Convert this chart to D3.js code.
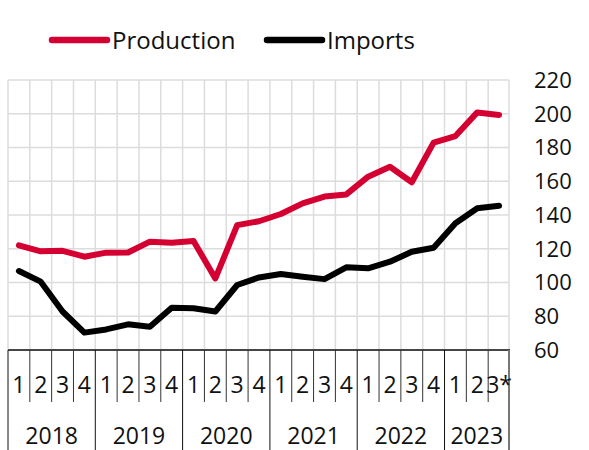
<!DOCTYPE html>
<html>
<head>
<meta charset="utf-8">
<script src="https://cdn.jsdelivr.net/npm/d3@7"></script>
<style>
  body { margin: 0; background: #fff; }
  text { font-family: "Open Sans", "Noto Sans", sans-serif; fill: #111; }
</style>
</head>
<body>
<div id="canvas"></div>
<script>
const years = ["2018", "2019", "2020", "2021", "2022", "2023"];
const quarterLabels = ["1","2","3","4","1","2","3","4","1","2","3","4","1","2","3","4","1","2","3","4","1","2","3*"];
const production = [122, 118.5, 118.8, 115.3, 117.7, 117.8, 124.2, 123.6, 124.6, 102.4, 134, 136.3,
                    140.6, 146.9, 150.9, 152.2, 162.7, 168.6, 159.4, 182.9, 186.8, 200.8, 199.3];
const imports = [106.8, 100.5, 82.8, 70.3, 72.2, 75.2, 73.8, 85.1, 84.7, 82.8, 98.5, 103,
                 105, 103.4, 102, 109, 108.4, 112.3, 118.2, 120.6, 135.1, 144, 145.5];
const yTicks = [60, 80, 100, 120, 140, 160, 180, 200, 220];

const w = 589, h = 450;
const margin = { top: 80, bottom: 100, left: 8, right: 80 };
const pLeft = margin.left, pRight = w - margin.right, pTop = margin.top, pBottom = h - margin.bottom;

const svg = d3.select("#canvas").append("svg")
  .attr("width", w).attr("height", h);

const idx = d3.range(quarterLabels.length);
const x = d3.scaleBand().domain(idx).range([pLeft, pRight + 1]).paddingInner(0).paddingOuter(0);
const y = d3.scaleLinear().domain([60, 220]).range([pBottom, pTop]);
const cx = i => x(i) + x.bandwidth() / 2;
const edge = i => i < idx.length ? x(i) : pRight;

// gridlines
const grid = svg.append("g").attr("stroke", "#dcdcdc").attr("stroke-width", 1.5);
grid.selectAll(".hg").data(yTicks).enter().append("line")
  .attr("x1", pLeft).attr("x2", pRight).attr("y1", d => y(d)).attr("y2", d => y(d));
grid.selectAll(".vg").data(d3.range(quarterLabels.length + 1)).enter().append("line")
  .attr("x1", edge).attr("x2", edge)
  .attr("y1", pTop).attr("y2", pBottom);

// right y axis labels
const yAxis = d3.axisRight(y).tickValues(yTicks).tickSize(0).tickPadding(0);
const ya = svg.append("g").attr("transform", "translate(534,0)").call(yAxis);
ya.select(".domain").remove();
ya.selectAll("text").attr("font-size", 22).attr("font-family", "'Open Sans', sans-serif")
  .attr("fill", "#111").attr("dy", "0.34em");

// category axis
const cat = svg.append("g");
cat.append("line").attr("x1", pLeft).attr("x2", pRight + 1).attr("y1", pBottom).attr("y2", pBottom)
  .attr("stroke", "#111").attr("stroke-width", 1.5);
cat.selectAll(".qt").data(idx.filter(i => i % 4 !== 0)).enter().append("line")
  .attr("x1", i => x(i)).attr("x2", i => x(i))
  .attr("y1", pBottom).attr("y2", pBottom + 52)
  .attr("stroke", "#333").attr("stroke-width", 1);
cat.selectAll(".yt").data(d3.range(0, 24, 4).concat([23])).enter().append("line")
  .attr("x1", edge).attr("x2", edge)
  .attr("y1", pBottom).attr("y2", h)
  .attr("stroke", i => i === 23 ? "#777" : "#111").attr("stroke-width", i => i === 23 ? 2 : 1);
cat.selectAll(".ql").data(quarterLabels).enter().append("text")
  .attr("x", (d, i) => cx(i)).attr("y", pBottom + 43)
  .attr("text-anchor", "middle").attr("font-size", 23)
  .text(d => d);
cat.selectAll(".yl").data(years).enter().append("text")
  .attr("x", (d, i) => (x(i * 4) + edge(i * 4 + 4)) / 2)
  .attr("y", h - 6)
  .attr("text-anchor", "middle").attr("font-size", 23)
  .text(d => d);

// lines
const line = d3.line().x((d, i) => cx(i)).y(d => y(d));
const series = [
  { name: "Production", values: production, color: "#d50032" },
  { name: "Imports", values: imports, color: "#000" }
];
svg.selectAll(".series").data(series).enter().append("path")
  .attr("d", d => line(d.values))
  .attr("fill", "none").attr("stroke", d => d.color)
  .attr("stroke-width", 6).attr("stroke-linejoin", "round").attr("stroke-linecap", "round");

// legend
const legendX = [52, 267];
const legend = svg.selectAll(".legend").data(series).enter().append("g")
  .attr("transform", (d, i) => "translate(" + legendX[i] + ",40)");
legend.append("line").attr("x1", 0).attr("x2", 55).attr("y1", 0).attr("y2", 0)
  .attr("stroke", d => d.color).attr("stroke-width", 6.5).attr("stroke-linecap", "round");
legend.append("text").attr("x", 60).attr("y", 0).attr("dy", "0.36em")
  .attr("font-size", 24).text(d => d.name);
</script>
</body>
</html>
